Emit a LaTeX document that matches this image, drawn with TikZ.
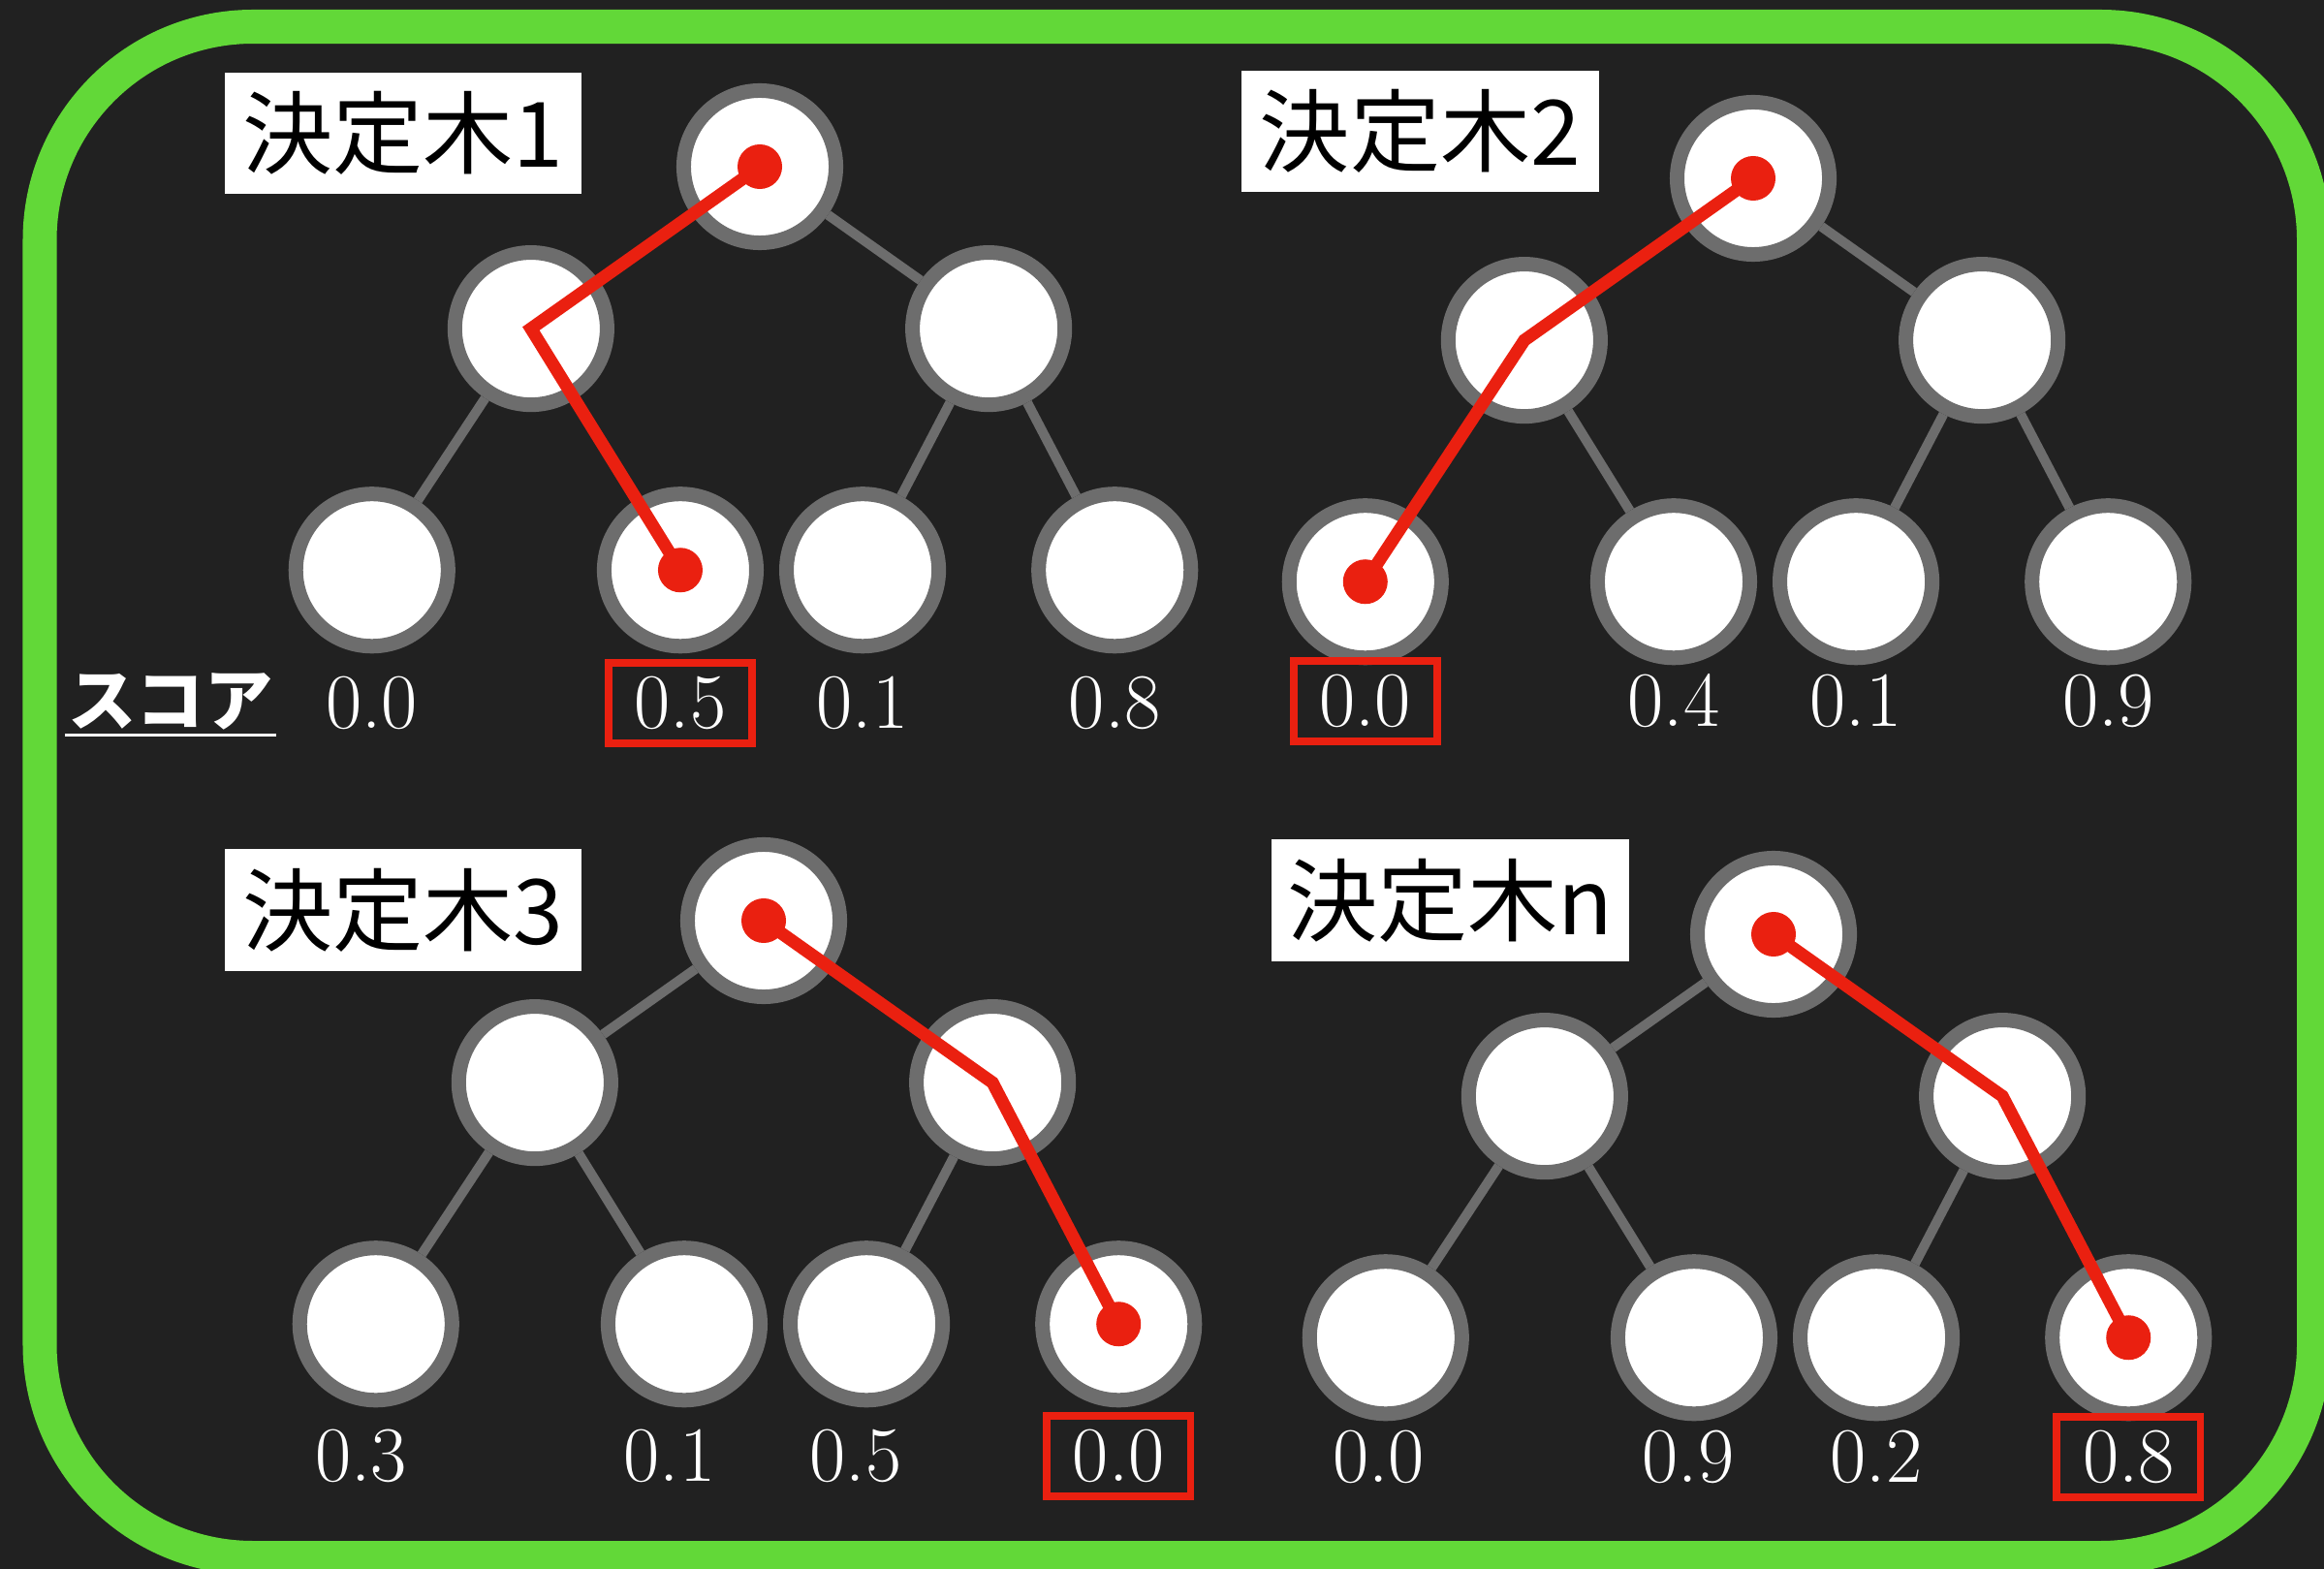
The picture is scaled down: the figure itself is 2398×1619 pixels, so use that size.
\documentclass[tikz,border=0pt]{standalone}
\usepackage{fontspec}
\usepackage{tikz}
\newfontfamily\jpfont{Noto Sans CJK JP}
\definecolor{bgdark}{HTML}{212121}
\definecolor{framegreen}{HTML}{62D838}
\definecolor{pathred}{HTML}{EA2010}
\definecolor{nodegray}{HTML}{6D6D6D}
\tikzstyle{tnode} = [circle, minimum size=1.57cm, inner sep=0pt, draw=nodegray, line width=0.15cm, fill=white]
\tikzstyle{branch} = [draw=nodegray, line width=0.10cm]
\tikzstyle{route} = [draw=pathred, line width=0.13cm]
\tikzstyle{reddot} = [fill=pathred]
\tikzstyle{treelabel} = [rectangle, minimum width=3.68cm, minimum height=1.25cm, fill=white, inner sep=0pt, font=\jpfont\fontsize{26.5}{30}\selectfont]
\tikzstyle{score} = [text=white, inner sep=0pt, font=\fontsize{23}{27}\selectfont]
\tikzstyle{chosen} = [score, draw=pathred, line width=0.075cm, minimum width=1.48cm, minimum height=0.83cm]

\begin{document}
\begin{tikzpicture}[x=0.01cm, y=-0.01cm, node distance=1.67cm]
		\useasboundingbox (0,0) rectangle (2398,1619);
		\fill [bgdark] (0,0) rectangle (2398,1619);
		\draw [framegreen, line width=0.35cm, rounded corners=2.2cm] (41,27.5) rectangle (2387.5,1607.5);
		
		% tree 1
		\node (tree1) [treelabel] at (416,137.5) {決定木1};
		\node (root1) [tnode] at (784,172) {};
		\node (mid1a) [tnode, below of=root1, xshift=-2.36cm] {};
		\node (mid1b) [tnode, below of=root1, xshift=2.36cm] {};
		\node (leaf1a) [tnode, below of=mid1a, xshift=-1.64cm, yshift=-0.82cm] {};
		\node (leaf1b) [tnode, below of=mid1a, xshift=1.54cm, yshift=-0.82cm] {};
		\node (leaf1c) [tnode, below of=mid1b, xshift=-1.30cm, yshift=-0.82cm] {};
		\node (leaf1d) [tnode, below of=mid1b, xshift=1.30cm, yshift=-0.82cm] {};
		\node (sc1a) [score, below of=leaf1a, yshift=0.30cm] {0.0};
		\node (sc1b) [chosen, below of=leaf1b, yshift=0.30cm] {0.5};
		\node (sc1c) [score, below of=leaf1c, yshift=0.30cm] {0.1};
		\node (sc1d) [score, below of=leaf1d, yshift=0.30cm] {0.8};
		
		% tree 2
		\node (tree2) [treelabel] at (1465.5,135.5) {決定木2};
		\node (root2) [tnode] at (1809,184) {};
		\node (mid2a) [tnode, below of=root2, xshift=-2.36cm] {};
		\node (mid2b) [tnode, below of=root2, xshift=2.36cm] {};
		\node (leaf2a) [tnode, below of=mid2a, xshift=-1.64cm, yshift=-0.82cm] {};
		\node (leaf2b) [tnode, below of=mid2a, xshift=1.54cm, yshift=-0.82cm] {};
		\node (leaf2c) [tnode, below of=mid2b, xshift=-1.30cm, yshift=-0.82cm] {};
		\node (leaf2d) [tnode, below of=mid2b, xshift=1.30cm, yshift=-0.82cm] {};
		\node (sc2a) [chosen, below of=leaf2a, yshift=0.44cm] {0.0};
		\node (sc2b) [score, below of=leaf2b, yshift=0.44cm] {0.4};
		\node (sc2c) [score, below of=leaf2c, yshift=0.44cm] {0.1};
		\node (sc2d) [score, below of=leaf2d, yshift=0.44cm] {0.9};
		
		% tree 3
		\node (tree3) [treelabel] at (416,939) {決定木3};
		\node (root3) [tnode] at (788,950) {};
		\node (mid3a) [tnode, below of=root3, xshift=-2.36cm] {};
		\node (mid3b) [tnode, below of=root3, xshift=2.36cm] {};
		\node (leaf3a) [tnode, below of=mid3a, xshift=-1.64cm, yshift=-0.82cm] {};
		\node (leaf3b) [tnode, below of=mid3a, xshift=1.54cm, yshift=-0.82cm] {};
		\node (leaf3c) [tnode, below of=mid3b, xshift=-1.30cm, yshift=-0.82cm] {};
		\node (leaf3d) [tnode, below of=mid3b, xshift=1.30cm, yshift=-0.82cm] {};
		\node (sc3a) [score, below of=leaf3a, xshift=-0.15cm, yshift=0.31cm] {0.3};
		\node (sc3b) [score, below of=leaf3b, xshift=-0.15cm, yshift=0.31cm] {0.1};
		\node (sc3c) [score, below of=leaf3c, xshift=-0.11cm, yshift=0.31cm] {0.5};
		\node (sc3d) [chosen, below of=leaf3d, yshift=0.31cm] {0.0};
		
		% tree n
		\node (tree4) [treelabel] at (1496.5,929) {決定木n};
		\node (root4) [tnode] at (1830,964) {};
		\node (mid4a) [tnode, below of=root4, xshift=-2.36cm] {};
		\node (mid4b) [tnode, below of=root4, xshift=2.36cm] {};
		\node (leaf4a) [tnode, below of=mid4a, xshift=-1.64cm, yshift=-0.82cm] {};
		\node (leaf4b) [tnode, below of=mid4a, xshift=1.54cm, yshift=-0.82cm] {};
		\node (leaf4c) [tnode, below of=mid4b, xshift=-1.30cm, yshift=-0.82cm] {};
		\node (leaf4d) [tnode, below of=mid4b, xshift=1.30cm, yshift=-0.82cm] {};
		\node (sc4a) [score, below of=leaf4a, xshift=-0.07cm, yshift=0.44cm] {0.0};
		\node (sc4b) [score, below of=leaf4b, xshift=-0.06cm, yshift=0.44cm] {0.9};
		\node (sc4c) [score, below of=leaf4c, yshift=0.44cm] {0.2};
		\node (sc4d) [chosen, below of=leaf4d, yshift=0.44cm] {0.8};
		
		% score heading
		\node (scorelbl) [text=white, inner sep=0pt, minimum width=2.16cm, font=\jpfont\bfseries\fontsize{20}{24}\selectfont] at (176,724) {スコア};
		\draw [white, line width=0.03cm] ([yshift=-0.34cm]scorelbl.west) -- ([yshift=-0.34cm]scorelbl.east);
		
		% branches
		\draw [branch] (root1) -- (mid1a);
		\draw [branch] (root1) -- (mid1b);
		\draw [branch] (mid1a) -- (leaf1a);
		\draw [branch] (mid1a) -- (leaf1b);
		\draw [branch] (mid1b) -- (leaf1c);
		\draw [branch] (mid1b) -- (leaf1d);
		\draw [branch] (root2) -- (mid2a);
		\draw [branch] (root2) -- (mid2b);
		\draw [branch] (mid2a) -- (leaf2a);
		\draw [branch] (mid2a) -- (leaf2b);
		\draw [branch] (mid2b) -- (leaf2c);
		\draw [branch] (mid2b) -- (leaf2d);
		\draw [branch] (root3) -- (mid3a);
		\draw [branch] (root3) -- (mid3b);
		\draw [branch] (mid3a) -- (leaf3a);
		\draw [branch] (mid3a) -- (leaf3b);
		\draw [branch] (mid3b) -- (leaf3c);
		\draw [branch] (mid3b) -- (leaf3d);
		\draw [branch] (root4) -- (mid4a);
		\draw [branch] (root4) -- (mid4b);
		\draw [branch] (mid4a) -- (leaf4a);
		\draw [branch] (mid4a) -- (leaf4b);
		\draw [branch] (mid4b) -- (leaf4c);
		\draw [branch] (mid4b) -- (leaf4d);
		
		% decision paths
		\draw [route] (root1.center) -- (mid1a.center) -- (leaf1b.center);
		\fill [reddot] (root1.center) circle (0.23cm);
		\fill [reddot] (leaf1b.center) circle (0.23cm);
		\draw [route] (root2.center) -- (mid2a.center) -- (leaf2a.center);
		\fill [reddot] (root2.center) circle (0.23cm);
		\fill [reddot] (leaf2a.center) circle (0.23cm);
		\draw [route] (root3.center) -- (mid3b.center) -- (leaf3d.center);
		\fill [reddot] (root3.center) circle (0.23cm);
		\fill [reddot] (leaf3d.center) circle (0.23cm);
		\draw [route] (root4.center) -- (mid4b.center) -- (leaf4d.center);
		\fill [reddot] (root4.center) circle (0.23cm);
		\fill [reddot] (leaf4d.center) circle (0.23cm);
		
		\end{tikzpicture}
\end{document}
